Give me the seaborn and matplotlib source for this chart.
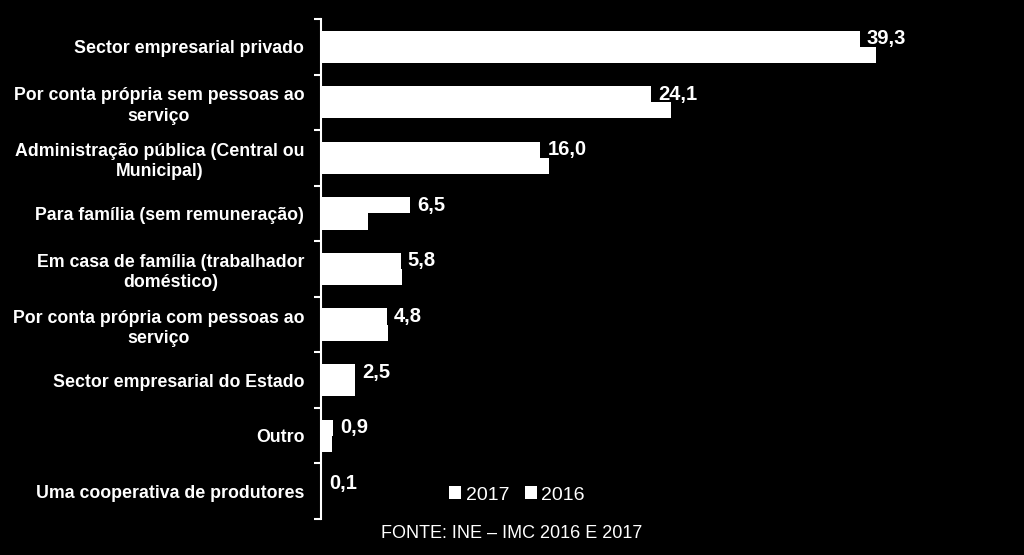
import numpy as np
import pandas as pd
import matplotlib
matplotlib.use("Agg")
import matplotlib.pyplot as plt
import seaborn as sns

categorias = [
    "Sector empresarial privado",
    "Por conta própria sem pessoas ao\nserviço",
    "Administração pública (Central ou\nMunicipal)",
    "Para família (sem remuneração)",
    "Em casa de família (trabalhador\ndoméstico)",
    "Por conta própria com pessoas ao\nserviço",
    "Sector empresarial do Estado",
    "Outro",
    "Uma cooperativa de produtores",
]
valores_2017 = [39.3, 24.1, 16.0, 6.5, 5.8, 4.8, 2.5, 0.9, 0.1]
valores_2016 = [40.5, 25.5, 16.6, 3.4, 5.9, 4.9, 2.5, 0.8, 0.1]
anos = ["2017", "2016"]

df = pd.DataFrame({
    "categoria": categorias * 2,
    "valor": valores_2017 + valores_2016,
    "ano": [anos[0]] * len(categorias) + [anos[1]] * len(categorias),
})

sns.set_style("white")
plt.rcParams["font.family"] = ["Liberation Sans", "DejaVu Sans"]

fig = plt.figure(figsize=(10.24, 5.55), dpi=100, facecolor="black")
ax = fig.add_axes([321 / 1024, 1 - 519 / 555, 617 / 1024, 500 / 555])
ax.set_facecolor("black")

sns.barplot(data=df, x="valor", y="categoria", hue="ano", orient="h",
            palette=["white", "white"], width=0.58, saturation=1,
            edgecolor="none", linewidth=0, ax=ax)

# rótulos com os valores de 2017
ax.bar_label(ax.containers[0], labels=[f"{v:.1f}".replace(".", ",") for v in valores_2017],
             padding=5, color="white", fontsize=14.5, fontweight="bold")

ax.set_xlim(0, 45)
ax.set_ylim(len(categorias) - 0.5, -0.5)
ax.set_xlabel("")
ax.set_ylabel("")
ax.set_xticks([])

for s in ["top", "right", "bottom"]:
    ax.spines[s].set_visible(False)
ax.spines["left"].set_color("white")
ax.spines["left"].set_linewidth(1.5)

# marcas nas fronteiras das categorias, rótulos no centro
ax.set_yticks(np.arange(len(categorias) + 1) - 0.5)
ax.set_yticklabels([])
ax.tick_params(axis="y", which="major", length=5, width=1.5, color="white", left=True)
ax.set_yticks(np.arange(len(categorias)), minor=True)
ax.set_yticklabels(categorias, minor=True)
ax.tick_params(axis="y", which="minor", length=0, pad=12, labelcolor="white", labelsize=12.8)
for lab in ax.get_yticklabels(minor=True):
    lab.set_fontweight("bold")
    lab.set_multialignment("center")
    lab.set_linespacing(1.25)

handles, labels = ax.get_legend_handles_labels()
ax.legend_.remove()
fig.legend(handles, labels, loc="center", bbox_to_anchor=(0.505, 1 - 495 / 555),
           ncol=2, frameon=False, fontsize=14, labelcolor="white",
           handlelength=0.6, handleheight=0.6, handletextpad=0.25, columnspacing=0.8)

fig.text(0.5, 1 - 533 / 555, "FONTE: INE – IMC 2016 E 2017", color="white",
         fontsize=13, ha="center", va="center")

fig.savefig("out.png", dpi=100, facecolor="black")
